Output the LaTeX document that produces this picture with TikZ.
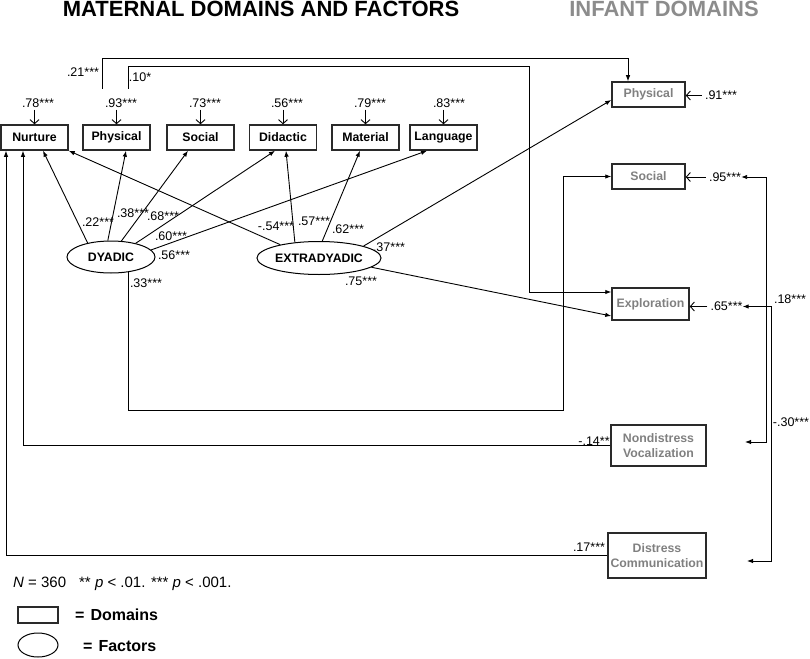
\documentclass[tikz,border=0pt]{standalone}
\usepackage{fontspec}
\setmainfont{Liberation Sans}
\usetikzlibrary{arrows.meta,shapes.geometric}
\definecolor{ig}{HTML}{808080}
\definecolor{tg}{HTML}{8C8C8C}
\definecolor{bd}{HTML}{2A2A2A}
\begin{document}
\begin{tikzpicture}[x=1pt,y=-1pt,
  mbox/.style={draw=bd,line width=1.5pt,minimum width=67pt,minimum height=25pt,inner sep=0pt,font=\fontsize{12.3}{15}\selectfont\bfseries},
  ibox/.style={mbox,text=ig,align=center},
  fac/.style={ellipse,draw=black,line width=1pt,inner sep=0pt,font=\fontsize{12.3}{14}\selectfont\bfseries},
  coef/.style={inner sep=0pt,font=\fontsize{12.5}{14}\selectfont},
  arr/.style={line width=0.9pt,-{Latex[length=6pt,width=4.5pt]}},
  corr/.style={line width=0.9pt,{Latex[length=6pt,width=4.5pt]}-{Latex[length=6pt,width=4.5pt]}},
  res/.style={line width=0.9pt,-{Straight Barb[length=4pt,width=9pt]}},
  ttl/.style={inner sep=0pt,anchor=base,font=\fontsize{22}{24}\selectfont\bfseries},
  leg/.style={inner sep=0pt,anchor=west,font=\fontsize{16}{18}\selectfont\bfseries},
]
\useasboundingbox (0,0) rectangle (810,658);

% titles
\node[ttl] (t1) at (261,17) {MATERNAL DOMAINS AND FACTORS};
\node[ttl,text=tg] (t2) at (664,17) {INFANT DOMAINS};

% maternal domains
\node[mbox] (nurture)  at (34.5,137.5) {Nurture};
\node[mbox] (physical) at (116.5,137.5) {Physical};
\node[mbox] (social)   at (200.5,137.5) {Social};
\node[mbox] (didactic) at (283,137.5) {Didactic};
\node[mbox] (material) at (365.5,137.5) {Material};
\node[mbox] (language) at (443.5,137.5) {Language};

% residuals maternal
\node[coef] (r1) at (38,103) {.78***};
\node[coef] (r2) at (121,103) {.93***};
\node[coef] (r3) at (205,103) {.73***};
\node[coef] (r4) at (287,103) {.56***};
\node[coef] (r5) at (370,103) {.79***};
\node[coef] (r6) at (449,103) {.83***};
\draw[res] (nurture.north |- r1.south) ++(0,2) -- (nurture.north);
\draw[res] (physical.north |- r2.south) ++(0,2) -- (physical.north);
\draw[res] (social.north |- r3.south) ++(0,2) -- (social.north);
\draw[res] (didactic.north |- r4.south) ++(0,2) -- (didactic.north);
\draw[res] (material.north |- r5.south) ++(0,2) -- (material.north);
\draw[res] (language.north |- r6.south) ++(0,2) -- (language.north);

% infant domains
\node[ibox,minimum width=73pt] (iphys) at (648.5,94.5) {Physical};
\node[ibox,minimum width=73pt] (isoc) at (648.5,176.5) {Social};
\node[ibox,minimum width=77pt,minimum height=32pt] (iexp) at (650.5,304) {Exploration};
\node[ibox,minimum width=95pt,minimum height=41pt] (inond) at (658.5,445.5) {Nondistress\\Vocalization};
\node[ibox,minimum width=98pt,minimum height=45pt] (idist) at (657,555.5) {Distress\\Communication};

% infant residuals
\node[coef] (r91) at (721,95.5) {.91***};
\node[coef] (r95) at (725,177) {.95***};
\node[coef] (r65) at (726.5,306.5) {.65***};
\draw[res,shorten <=3pt] (r91.west) -- (r91.west -| iphys.east);
\draw[res,shorten <=3pt] (r95.west) -- (r95.west -| isoc.east);
\draw[res,shorten <=3pt] (r65.west) -- (r65.west -| iexp.east);

% correlations on the right
\coordinate (c1) at (745,442);
\coordinate (c2) at (747,561);
\draw[corr] (r95.east) -| (766,442) -- (c1);
\draw[corr] (r65.east) -| (771,561) -- (c2);
\node[coef] (k18) at (790,299) {.18***};
\node[coef] (k30) at (791,422) {-.30***};

% factors
\node[fac,minimum width=88pt,minimum height=32pt] (dyadic) at (111,257) {DYADIC};
\node[fac,minimum width=102pt,minimum height=33pt] (extra) at (319,258) {EXTRADYADIC};

% dyadic loadings
\draw[arr] (dyadic.149) -- ([xshift=8.5pt]nurture.south);
\draw[arr] (dyadic.101) -- ([xshift=9.5pt]physical.south);
\draw[arr] (dyadic.57) -- ([xshift=-12.5pt]social.south);
\draw[arr] (dyadic.29) -- ([xshift=-8pt]didactic.south);
\draw[arr] (dyadic.10) -- ([xshift=-16.5pt]language.south);
\draw[arr] (dyadic.-41) |- (563,410) |- (isoc.west);

% extradyadic loadings
\draw[arr] (extra.161) -- (nurture.south east);
\draw[arr] (extra.147) -- ([xshift=3pt]didactic.south);
\draw[arr] (extra.79) -- ([xshift=-5.5pt]material.south);
\draw[arr] (extra.15) -- ([yshift=-5.5pt]iphys.west);
\draw[arr] (extra.-10) -- ([yshift=-12pt]iexp.west);

% top paths from physical
\coordinate (a21) at (102,89);
\coordinate (a10) at (128,89);
\draw[arr] (a21) -- (102,58) -| ([xshift=-20.5pt]iphys.north);
\draw[arr] (a10) -- (128,66) -| (529,292) -- ([yshift=12pt]iexp.west);

% infant to nurture
\draw[arr] (inond.west) -| ([xshift=-11.5pt]nurture.south);
\draw[arr] (idist.west) -| ([xshift=-28.5pt]nurture.south);

% coefficient labels
\node[coef] (l22) at (98,222) {.22***};
\node[coef] (l38) at (133,213) {.38***};
\node[coef] (l68) at (163,216) {.68***};
\node[coef] (l60) at (171,236) {.60***};
\node[coef] (l56) at (174,255) {.56***};
\node[coef] (l33) at (146,283) {.33***};
\node[coef] (l54) at (276,226) {-.54***};
\node[coef] (l57) at (314,221) {.57***};
\node[coef] (l62) at (348,229) {.62***};
\node[coef] (l37) at (389,247) {.37***};
\node[coef] (l75) at (361,281) {.75***};
\node[coef] (l21) at (83,72) {.21***};
\node[coef] (l10) at (140,77) {.10*};
\node[coef] (l14) at (594,441) {-.14**};
\node[coef] (l17) at (589,547) {.17***};

% note and legend
\node[inner sep=0pt,anchor=base west,font=\fontsize{15}{17}\selectfont] (note) at (13,587) {\textit{N} = 360\hspace{13pt}** \textit{p} < .01. *** \textit{p} < .001.};
\node[draw=bd,line width=1.2pt,minimum width=40pt,minimum height=16pt,inner sep=0pt] (lgbox) at (38,615) {};
\node[leg] (lgd) at (75,615) {=\hspace{6pt}Domains};
\node[ellipse,draw=black,line width=1pt,minimum width=40pt,minimum height=24pt,inner sep=0pt] (lgell) at (38,645) {};
\node[leg] (lgf) at (83,646) {=\hspace{6pt}Factors};
\end{tikzpicture}
\end{document}
